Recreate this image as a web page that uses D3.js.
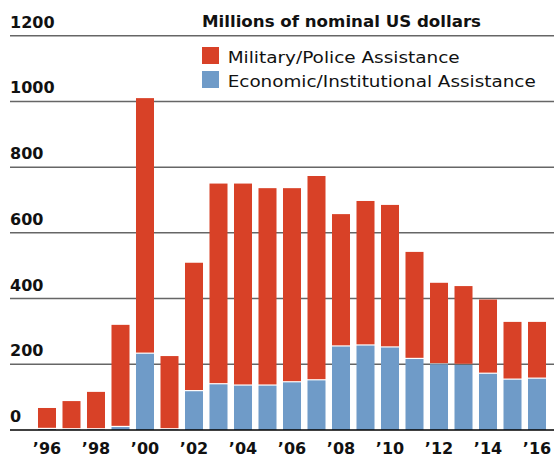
<!DOCTYPE html>
<html>
<head>
<meta charset="utf-8">
<script src="https://cdn.jsdelivr.net/npm/d3@7"></script>
<style>
  body { margin: 0; background: #fff; }
  svg { display: block; font-family: "DejaVu Sans", sans-serif; }
</style>
</head>
<body>
<div id="chart"></div>
<script>
// values, millions of nominal US dollars
const years = d3.range(1996, 2017);
const totals = [67, 88, 116, 320, 1010, 225, 509, 750, 750, 736, 736, 773, 657, 697, 685, 542, 448, 438, 397, 329, 329];
const economic = [3, 2, 2, 9, 232, 2, 118, 139, 135, 135, 145, 151, 254, 257, 251, 216, 200, 198, 171, 153, 156];
const military = totals.map((t, i) => t - economic[i]);
const yTicks = [0, 200, 400, 600, 800, 1000, 1200];
const seriesNames = ["Military/Police Assistance", "Economic/Institutional Assistance"];
const colors = ["#d84127", "#6f9bc8"];

const width = 554, height = 457;
const svg = d3.select("#chart").append("svg")
    .attr("width", width)
    .attr("height", height);

const x = d3.scaleBand()
    .domain(years)
    .range([31.5, 552.5])
    .padding(0.265);

const y = d3.scaleLinear()
    .domain([0, 1200])
    .range([430, 35.7]);

// gridlines
svg.append("g").selectAll("line")
    .data(yTicks.filter(d => d > 0))
    .join("line")
    .attr("x1", 10).attr("x2", width)
    .attr("y1", d => y(d)).attr("y2", d => y(d))
    .attr("stroke", "#666")
    .attr("stroke-width", 1.5);

// y labels
svg.append("g").selectAll("text")
    .data(yTicks)
    .join("text")
    .attr("x", 10)
    .attr("y", d => y(d) - 8)
    .attr("font-size", 16)
    .attr("font-weight", "bold")
    .attr("fill", "#111")
    .text(d => d);

// bars: economic at the bottom, military stacked on top with a thin white gap
const bars = svg.append("g");
bars.selectAll("rect.eco")
    .data(years)
    .join("rect")
    .attr("class", "eco")
    .attr("x", d => x(d))
    .attr("width", x.bandwidth())
    .attr("y", (d, i) => y(economic[i]))
    .attr("height", (d, i) => y(0) - y(economic[i]))
    .attr("fill", colors[1]);

bars.selectAll("rect.mil")
    .data(years)
    .join("rect")
    .attr("class", "mil")
    .attr("x", d => x(d))
    .attr("width", x.bandwidth())
    .attr("y", (d, i) => y(economic[i] + military[i]))
    .attr("height", (d, i) => Math.max(0, y(economic[i]) - y(economic[i] + military[i]) - 1.2))
    .attr("fill", colors[0]);

// baseline
svg.append("line")
    .attr("x1", 10).attr("x2", width)
    .attr("y1", y(0)).attr("y2", y(0))
    .attr("stroke", "#000")
    .attr("stroke-width", 1.5);

// x labels (even years)
svg.append("g").selectAll("text")
    .data(years.filter(d => d % 2 === 0))
    .join("text")
    .attr("x", d => x(d) + x.bandwidth() / 2)
    .attr("y", 454)
    .attr("text-anchor", "middle")
    .attr("font-size", 16)
    .attr("font-weight", "bold")
    .attr("fill", "#111")
    .text(d => "\u2019" + String(d).slice(2));

// title
svg.append("text")
    .attr("x", 202)
    .attr("y", 26.7)
    .attr("font-size", 16)
    .attr("font-weight", "bold")
    .attr("fill", "#111")
    .attr("textLength", 279)
    .attr("lengthAdjust", "spacingAndGlyphs")
    .text("Millions of nominal US dollars");

// legend
const legend = svg.append("g").attr("transform", "translate(202,47)");
const items = legend.selectAll("g")
    .data(seriesNames)
    .join("g")
    .attr("transform", (d, i) => `translate(0,${i * 24})`);
items.append("rect")
    .attr("width", 17).attr("height", 17)
    .attr("fill", (d, i) => colors[i]);
items.append("text")
    .attr("x", 25.7)
    .attr("y", 15.5)
    .attr("font-size", 16)
    .attr("fill", "#111")
    .attr("textLength", (d, i) => i === 0 ? 232 : 308)
    .attr("lengthAdjust", "spacingAndGlyphs")
    .text(d => d);
</script>
</body>
</html>
